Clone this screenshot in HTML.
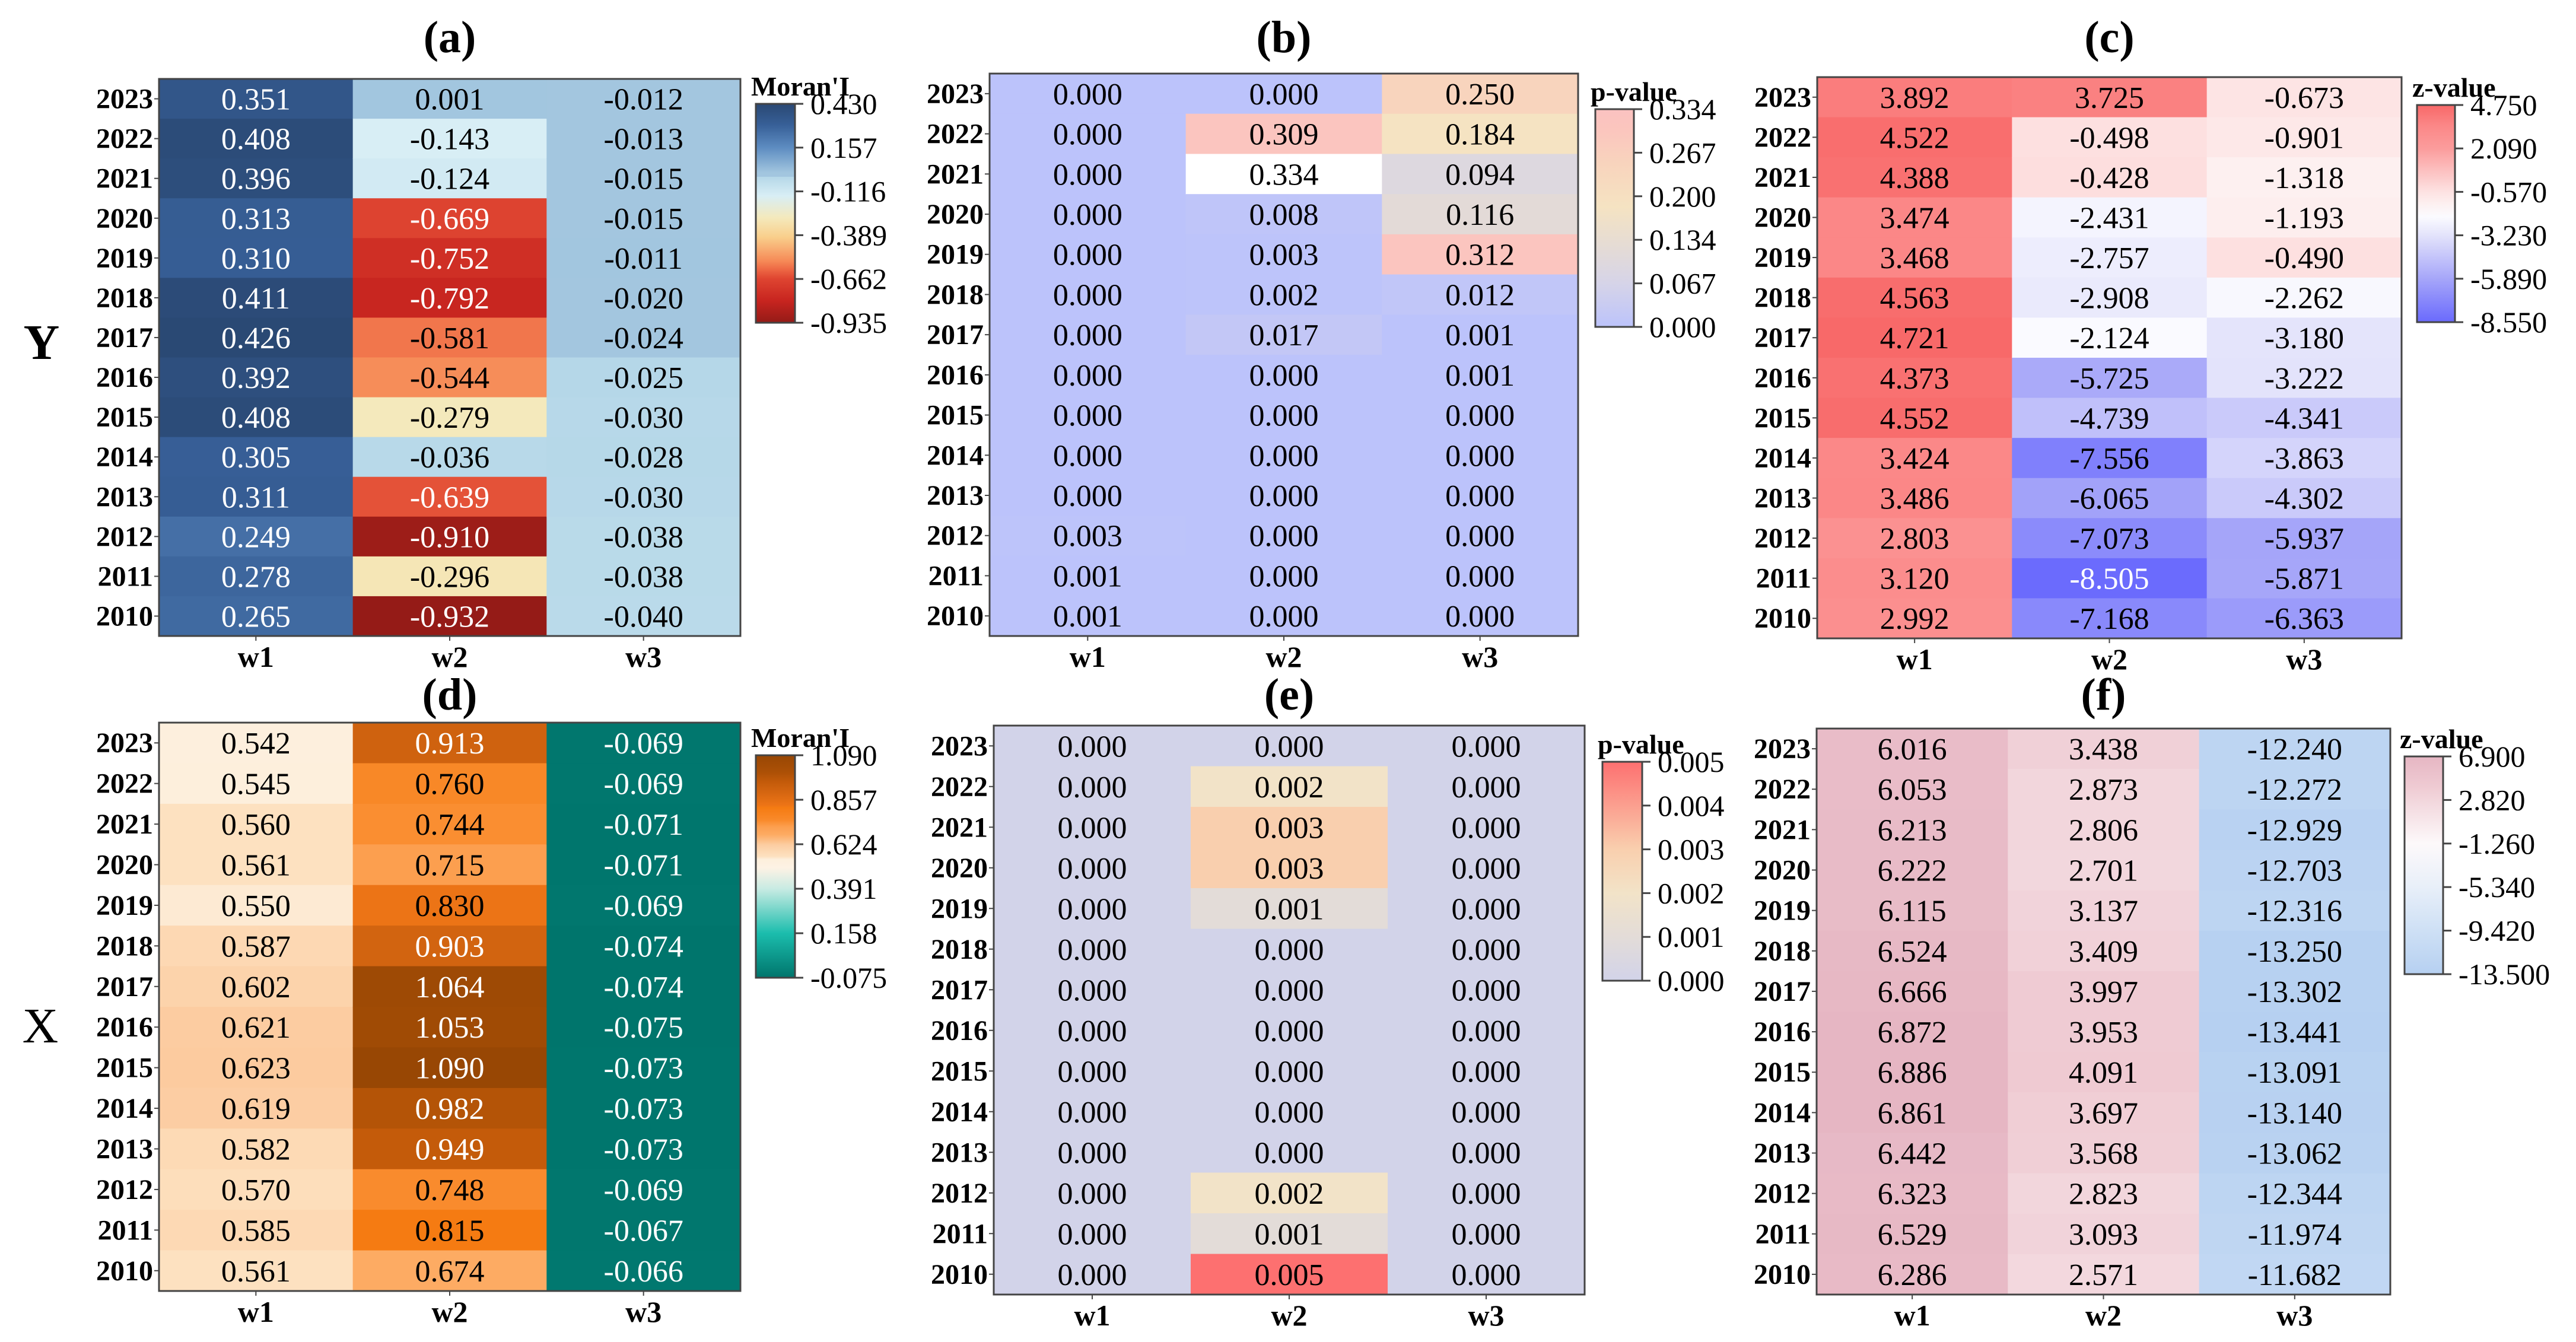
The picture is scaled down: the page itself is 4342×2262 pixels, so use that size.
<!DOCTYPE html>
<html><head><meta charset="utf-8"><style>
html,body{margin:0;padding:0;background:#fff;}
svg{display:block;font-family:"Liberation Serif",serif;}
</style></head><body>
<svg id="fig" width="4342" height="2262" viewBox="0 0 4342 2262" xmlns="http://www.w3.org/2000/svg">
<rect width="4342" height="2262" fill="#fff"/>
<text x="70" y="605" font-size="84" font-weight="bold" text-anchor="middle">Y</text>
<text x="68" y="1757" font-size="84" text-anchor="middle">X</text>
</svg>
<script>
const years = ['2023','2022','2021','2020','2019','2018','2017','2016','2015','2014','2013','2012','2011','2010'];
const cols = ['w1','w2','w3'];

const a_w1 = [0.351,0.408,0.396,0.313,0.310,0.411,0.426,0.392,0.408,0.305,0.311,0.249,0.278,0.265];
const a_w2 = [0.001,-0.143,-0.124,-0.669,-0.752,-0.792,-0.581,-0.544,-0.279,-0.036,-0.639,-0.910,-0.296,-0.932];
const a_w3 = [-0.012,-0.013,-0.015,-0.015,-0.011,-0.020,-0.024,-0.025,-0.030,-0.028,-0.030,-0.038,-0.038,-0.040];
const a_ticks = ['0.430','0.157','-0.116','-0.389','-0.662','-0.935'];

const b_w1 = [0,0,0,0,0,0,0,0,0,0,0,0.003,0.001,0.001];
const b_w2 = [0,0.309,0.334,0.008,0.003,0.002,0.017,0,0,0,0,0,0,0];
const b_w3 = [0.250,0.184,0.094,0.116,0.312,0.012,0.001,0.001,0,0,0,0,0,0];
const b_ticks = ['0.334','0.267','0.200','0.134','0.067','0.000'];

const c_w1 = [3.892,4.522,4.388,3.474,3.468,4.563,4.721,4.373,4.552,3.424,3.486,2.803,3.120,2.992];
const c_w2 = [3.725,-0.498,-0.428,-2.431,-2.757,-2.908,-2.124,-5.725,-4.739,-7.556,-6.065,-7.073,-8.505,-7.168];
const c_w3 = [-0.673,-0.901,-1.318,-1.193,-0.490,-2.262,-3.180,-3.222,-4.341,-3.863,-4.302,-5.937,-5.871,-6.363];
const c_ticks = ['4.750','2.090','-0.570','-3.230','-5.890','-8.550'];

const d_w1 = [0.542,0.545,0.560,0.561,0.550,0.587,0.602,0.621,0.623,0.619,0.582,0.570,0.585,0.561];
const d_w2 = [0.913,0.760,0.744,0.715,0.830,0.903,1.064,1.053,1.090,0.982,0.949,0.748,0.815,0.674];
const d_w3 = [-0.069,-0.069,-0.071,-0.071,-0.069,-0.074,-0.074,-0.075,-0.073,-0.073,-0.073,-0.069,-0.067,-0.066];
const d_ticks = ['1.090','0.857','0.624','0.391','0.158','-0.075'];

const e_w1 = [0,0,0,0,0,0,0,0,0,0,0,0,0,0];
const e_w2 = [0,0.002,0.003,0.003,0.001,0,0,0,0,0,0,0.002,0.001,0.005];
const e_w3 = [0,0,0,0,0,0,0,0,0,0,0,0,0,0];
const e_ticks = ['0.005','0.004','0.003','0.002','0.001','0.000'];

const f_w1 = [6.016,6.053,6.213,6.222,6.115,6.524,6.666,6.872,6.886,6.861,6.442,6.323,6.529,6.286];
const f_w2 = [3.438,2.873,2.806,2.701,3.137,3.409,3.997,3.953,4.091,3.697,3.568,2.823,3.093,2.571];
const f_w3 = [-12.240,-12.272,-12.929,-12.703,-12.316,-13.250,-13.302,-13.441,-13.091,-13.140,-13.062,-12.344,-11.974,-11.682];
const f_ticks = ['6.900','2.820','-1.260','-5.340','-9.420','-13.500'];

const NS='http://www.w3.org/2000/svg';
const svg=document.getElementById('fig');
function mk(tag,attrs,parent){const e=document.createElementNS(NS,tag);for(const k in attrs)e.setAttribute(k,attrs[k]);(parent||svg).appendChild(e);return e;}
function hex(h){return [parseInt(h.slice(1,3),16),parseInt(h.slice(3,5),16),parseInt(h.slice(5,7),16)];}
function cmap(stops,v){
  if(v<=stops[0][0])return hex(stops[0][1]);
  for(let i=1;i<stops.length;i++){if(v<=stops[i][0]){const t=(v-stops[i-1][0])/(stops[i][0]-stops[i-1][0]);const a=hex(stops[i-1][1]),b=hex(stops[i][1]);return a.map((x,j)=>Math.round(x+(b[j]-x)*t));}}
  return hex(stops[stops.length-1][1]);
}
function rgb(c){return 'rgb('+c.join(',')+')';}

const panels=[
 {id:'a',data:[a_w1,a_w2,a_w3],ticks:a_ticks,title:"Moran'I",x0:268,x1:1248,y0:133,y1:1072,ty:88,cb:[1274,1340,175,544],
  stops:[[-0.935,'#941b17'],[-0.8,'#c7241f'],[-0.66,'#df4531'],[-0.6,'#ee6a45'],[-0.55,'#f68a57'],[-0.4,'#f9cf8c'],[-0.28,'#f4e9bc'],[-0.143,'#d8eef5'],[-0.0245,'#b5d7e8'],[-0.024,'#a3c6df'],[0.0,'#a2c6df'],[0.157,'#5d8cc1'],[0.3,'#375f97'],[0.43,'#2a4873']]},
 {id:'b',data:[b_w1,b_w2,b_w3],ticks:b_ticks,title:'p-value',x0:1668,x1:2660,y0:124,y1:1072,ty:88,cb:[2689,2754,184,551],over:'#ffffff',
  stops:[[0,'#bcc3fb'],[0.067,'#d6d4e8'],[0.12,'#e4dbd6'],[0.184,'#f5e3c2'],[0.25,'#f8d4bd'],[0.3,'#fbc6be'],[0.334,'#fbc2c0']]},
 {id:'c',data:[c_w1,c_w2,c_w3],ticks:c_ticks,title:'z-value',x0:3063,x1:4048,y0:130,y1:1076,ty:88,cb:[4074,4138,177,543],
  stops:[[-8.55,'#6a6afd'],[-5.89,'#a6a6f9'],[-3.23,'#e3e3fb'],[-2.1,'#fbfbff'],[-1.3,'#fdf0f0'],[-0.57,'#fde2e2'],[2.09,'#fb9c9c'],[3.5,'#fb8787'],[4.75,'#f86868']]},
 {id:'d',data:[d_w1,d_w2,d_w3],ticks:d_ticks,title:"Moran'I",x0:268,x1:1248,y0:1218,y1:2176,ty:1196,cb:[1274,1340,1273,1648],
  stops:[[-0.075,'#00756c'],[0.158,'#1bbdad'],[0.391,'#c8ebe3'],[0.5,'#fdf2e4'],[0.545,'#fdefdc'],[0.56,'#fde1c0'],[0.62,'#fccda2'],[0.674,'#fdab63'],[0.715,'#fc9f4f'],[0.75,'#f98a2b'],[0.815,'#f57b12'],[0.83,'#ec7416'],[0.913,'#cf620f'],[0.949,'#c45b0a'],[1.0,'#ac5006'],[1.09,'#984704']]},
 {id:'e',data:[e_w1,e_w2,e_w3],ticks:e_ticks,title:'p-value',x0:1675,x1:2671,y0:1223,y1:2182,ty:1196,cb:[2701,2768,1284,1653],
  stops:[[0,'#d2d3e9'],[0.001,'#e3dcd8'],[0.002,'#f2e3c8'],[0.003,'#f9cfae'],[0.004,'#fb9f8f'],[0.005,'#fd7070']]},
 {id:'f',data:[f_w1,f_w2,f_w3],ticks:f_ticks,title:'z-value',x0:3062,x1:4029,y0:1228,y1:2182,ty:1196,cb:[4053,4118,1275,1642],
  stops:[[-13.5,'#b6d0f1'],[-9.42,'#cee0f5'],[-5.34,'#e8eff9'],[-1.26,'#fdf9fa'],[2.82,'#f2d6dc'],[4.0,'#efcbd3'],[6.9,'#e6b6c3']]}
];

panels.forEach(p=>{
  const g=mk('g',{});
  
  
  const cw=(p.x1-p.x0)/3, rh=(p.y1-p.y0)/14;
  const vmax=Math.max(...p.stops.map(s=>s[0]));
  const t=mk('text',{x:(p.x0+p.x1)/2,y:p.ty,'font-size':76,'font-weight':'bold','text-anchor':'middle'},g);
  t.textContent='('+p.id+')';
  
  
  p.data.forEach((col,ci)=>{
    col.forEach((v,ri)=>{
      let c=cmap(p.stops,v);
      if(p.over && v>=vmax) c=hex(p.over);
      const r=mk('rect',{x:p.x0+ci*cw,y:p.y0+ri*rh,width:cw+0.8,height:rh+0.8,fill:rgb(c)},g);
      
      
      const lum=(0.299*c[0]+0.587*c[1]+0.114*c[2])/255;
      const tx=mk('text',{x:p.x0+(ci+0.5)*cw,y:p.y0+(ri+0.5)*rh+18,'font-size':52,'text-anchor':'middle',fill:lum<0.49?'#fff':'#000'},g);
      tx.textContent=v.toFixed(3);
      
      
    });
  });
  const fr=mk('rect',{x:p.x0,y:p.y0,width:p.x1-p.x0,height:p.y1-p.y0,fill:'none',stroke:'#444',"stroke-width":3},g);
  
  
  years.forEach((yr,ri)=>{
    const yy=p.y0+(ri+0.5)*rh;
    mk('line',{x1:p.x0-8,x2:p.x0,y1:yy,y2:yy,stroke:'#444','stroke-width':2},g);
    const lt=mk('text',{x:p.x0-10,y:yy+16,'font-size':48,'font-weight':'bold','text-anchor':'end'},g);
    lt.textContent=yr;
    
    
  });
  cols.forEach((cn,ci)=>{
    const xx=p.x0+(ci+0.5)*cw;
    mk('line',{x1:xx,x2:xx,y1:p.y1,y2:p.y1+8,stroke:'#444','stroke-width':2},g);
    const ct=mk('text',{x:xx,y:p.y1+52,'font-size':50,'font-weight':'bold','text-anchor':'middle'},g);
    ct.textContent=cn;
    
    
  });
  const [cx0,cx1,cy0,cy1]=p.cb;
  const gid='grad-'+p.id;
  const defs=mk('defs',{},g);
  const lg=mk('linearGradient',{id:gid,x1:0,y1:1,x2:0,y2:0},defs);
  const lo=p.stops[0][0], hi=vmax;
  p.stops.forEach(s=>{mk('stop',{offset:((s[0]-lo)/(hi-lo)),'stop-color':s[1]},lg);});
  const cb=mk('rect',{x:cx0,y:cy0,width:cx1-cx0,height:cy1-cy0,fill:'url(#'+gid+')',stroke:'#444','stroke-width':3},g);
  
  
  p.ticks.forEach((tk,i)=>{
    const yy=cy0+i*(cy1-cy0)/(p.ticks.length-1);
    mk('line',{x1:cx1,x2:cx1+14,y1:yy,y2:yy,stroke:'#444','stroke-width':3},g);
    const tt=mk('text',{x:cx1+26,y:yy+17,'font-size':50},g);
    tt.textContent=tk;
    
    
  });
  const ctl=mk('text',{x:cx0-8,y:cy0-14,'font-size':46,'font-weight':'bold'},g);
  ctl.textContent=p.title;
  
  
});
</script>
</body></html>
